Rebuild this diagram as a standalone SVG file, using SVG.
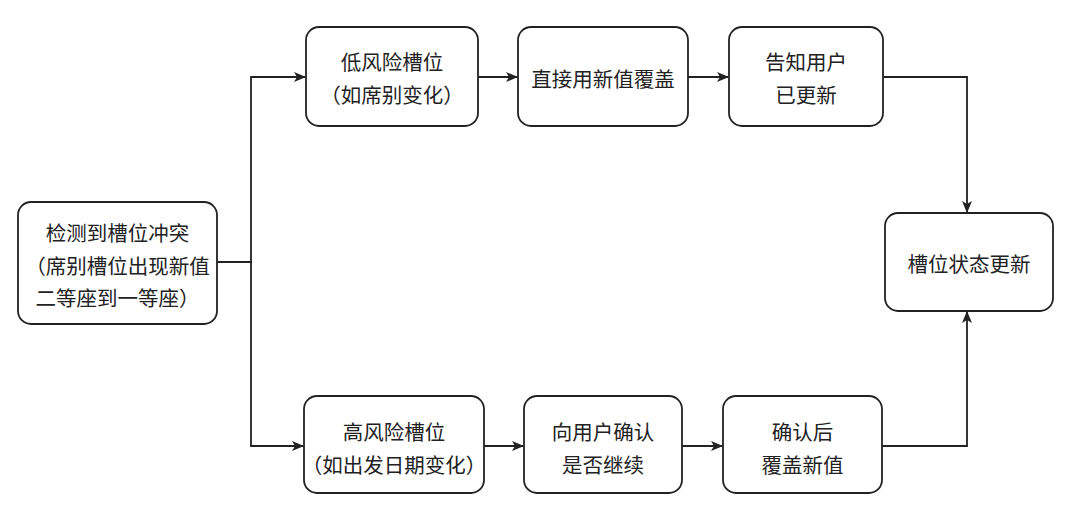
<svg xmlns="http://www.w3.org/2000/svg" width="1080" height="518" viewBox="0 0 1080 518">
<defs>
<style>
.box{fill:#fff;stroke:#222;stroke-width:1.8}
.t{font-family:"Noto Sans CJK SC","Noto Sans",sans-serif;font-size:20.5px;fill:#222;text-anchor:middle;dominant-baseline:central}
.c{fill:none;stroke:#222;stroke-width:1.8}
</style>
<marker id="ah" viewBox="0 0 12 12" refX="11" refY="6" markerWidth="12" markerHeight="12" markerUnits="userSpaceOnUse" orient="auto">
<path d="M0,1 L12,6 L0,11 L3,6 Z" fill="#222"/>
</marker>
</defs>
<rect width="1080" height="518" fill="#fff"/>
<g id="connectors">
<path class="c" d="M217,262 H251 V77 H305" marker-end="url(#ah)"/>
<path class="c" d="M217,262 H251 V446 H303" marker-end="url(#ah)"/>
<path class="c" d="M478,77 H517" marker-end="url(#ah)"/>
<path class="c" d="M688,77 H728" marker-end="url(#ah)"/>
<path class="c" d="M883,77 H967 V212" marker-end="url(#ah)"/>
<path class="c" d="M484,446 H523" marker-end="url(#ah)"/>
<path class="c" d="M682,446 H722" marker-end="url(#ah)"/>
<path class="c" d="M882,446 H967 V312" marker-end="url(#ah)"/>
</g>
<g id="n1">
<rect class="box" x="18" y="202" width="199" height="122" rx="13"/>
<text class="t" x="117.5" y="232">检测到槽位冲突</text>
<text class="t" x="117.5" y="265">（席别槽位出现新值</text>
<text class="t" x="117.5" y="297">二等座到一等座）</text>
</g>
<g id="n2">
<rect class="box" x="306" y="27" width="172" height="99" rx="13"/>
<text class="t" x="392" y="61">低风险槽位</text>
<text class="t" x="392" y="94">（如席别变化）</text>
</g>
<g id="n3">
<rect class="box" x="518" y="27" width="170" height="99" rx="13"/>
<text class="t" x="603" y="78">直接用新值覆盖</text>
</g>
<g id="n4">
<rect class="box" x="729" y="27" width="154" height="99" rx="13"/>
<text class="t" x="806" y="61">告知用户</text>
<text class="t" x="806" y="94">已更新</text>
</g>
<g id="n5">
<rect class="box" x="885" y="213" width="168" height="98" rx="13"/>
<text class="t" x="969" y="263">槽位状态更新</text>
</g>
<g id="n6">
<rect class="box" x="304" y="396" width="180" height="97" rx="13"/>
<text class="t" x="394" y="431">高风险槽位</text>
<text class="t" x="394" y="464">（如出发日期变化）</text>
</g>
<g id="n7">
<rect class="box" x="524" y="396" width="158" height="97" rx="13"/>
<text class="t" x="603" y="431">向用户确认</text>
<text class="t" x="603" y="464">是否继续</text>
</g>
<g id="n8">
<rect class="box" x="723" y="396" width="159" height="97" rx="13"/>
<text class="t" x="802.5" y="431">确认后</text>
<text class="t" x="802.5" y="464">覆盖新值</text>
</g>
</svg>
